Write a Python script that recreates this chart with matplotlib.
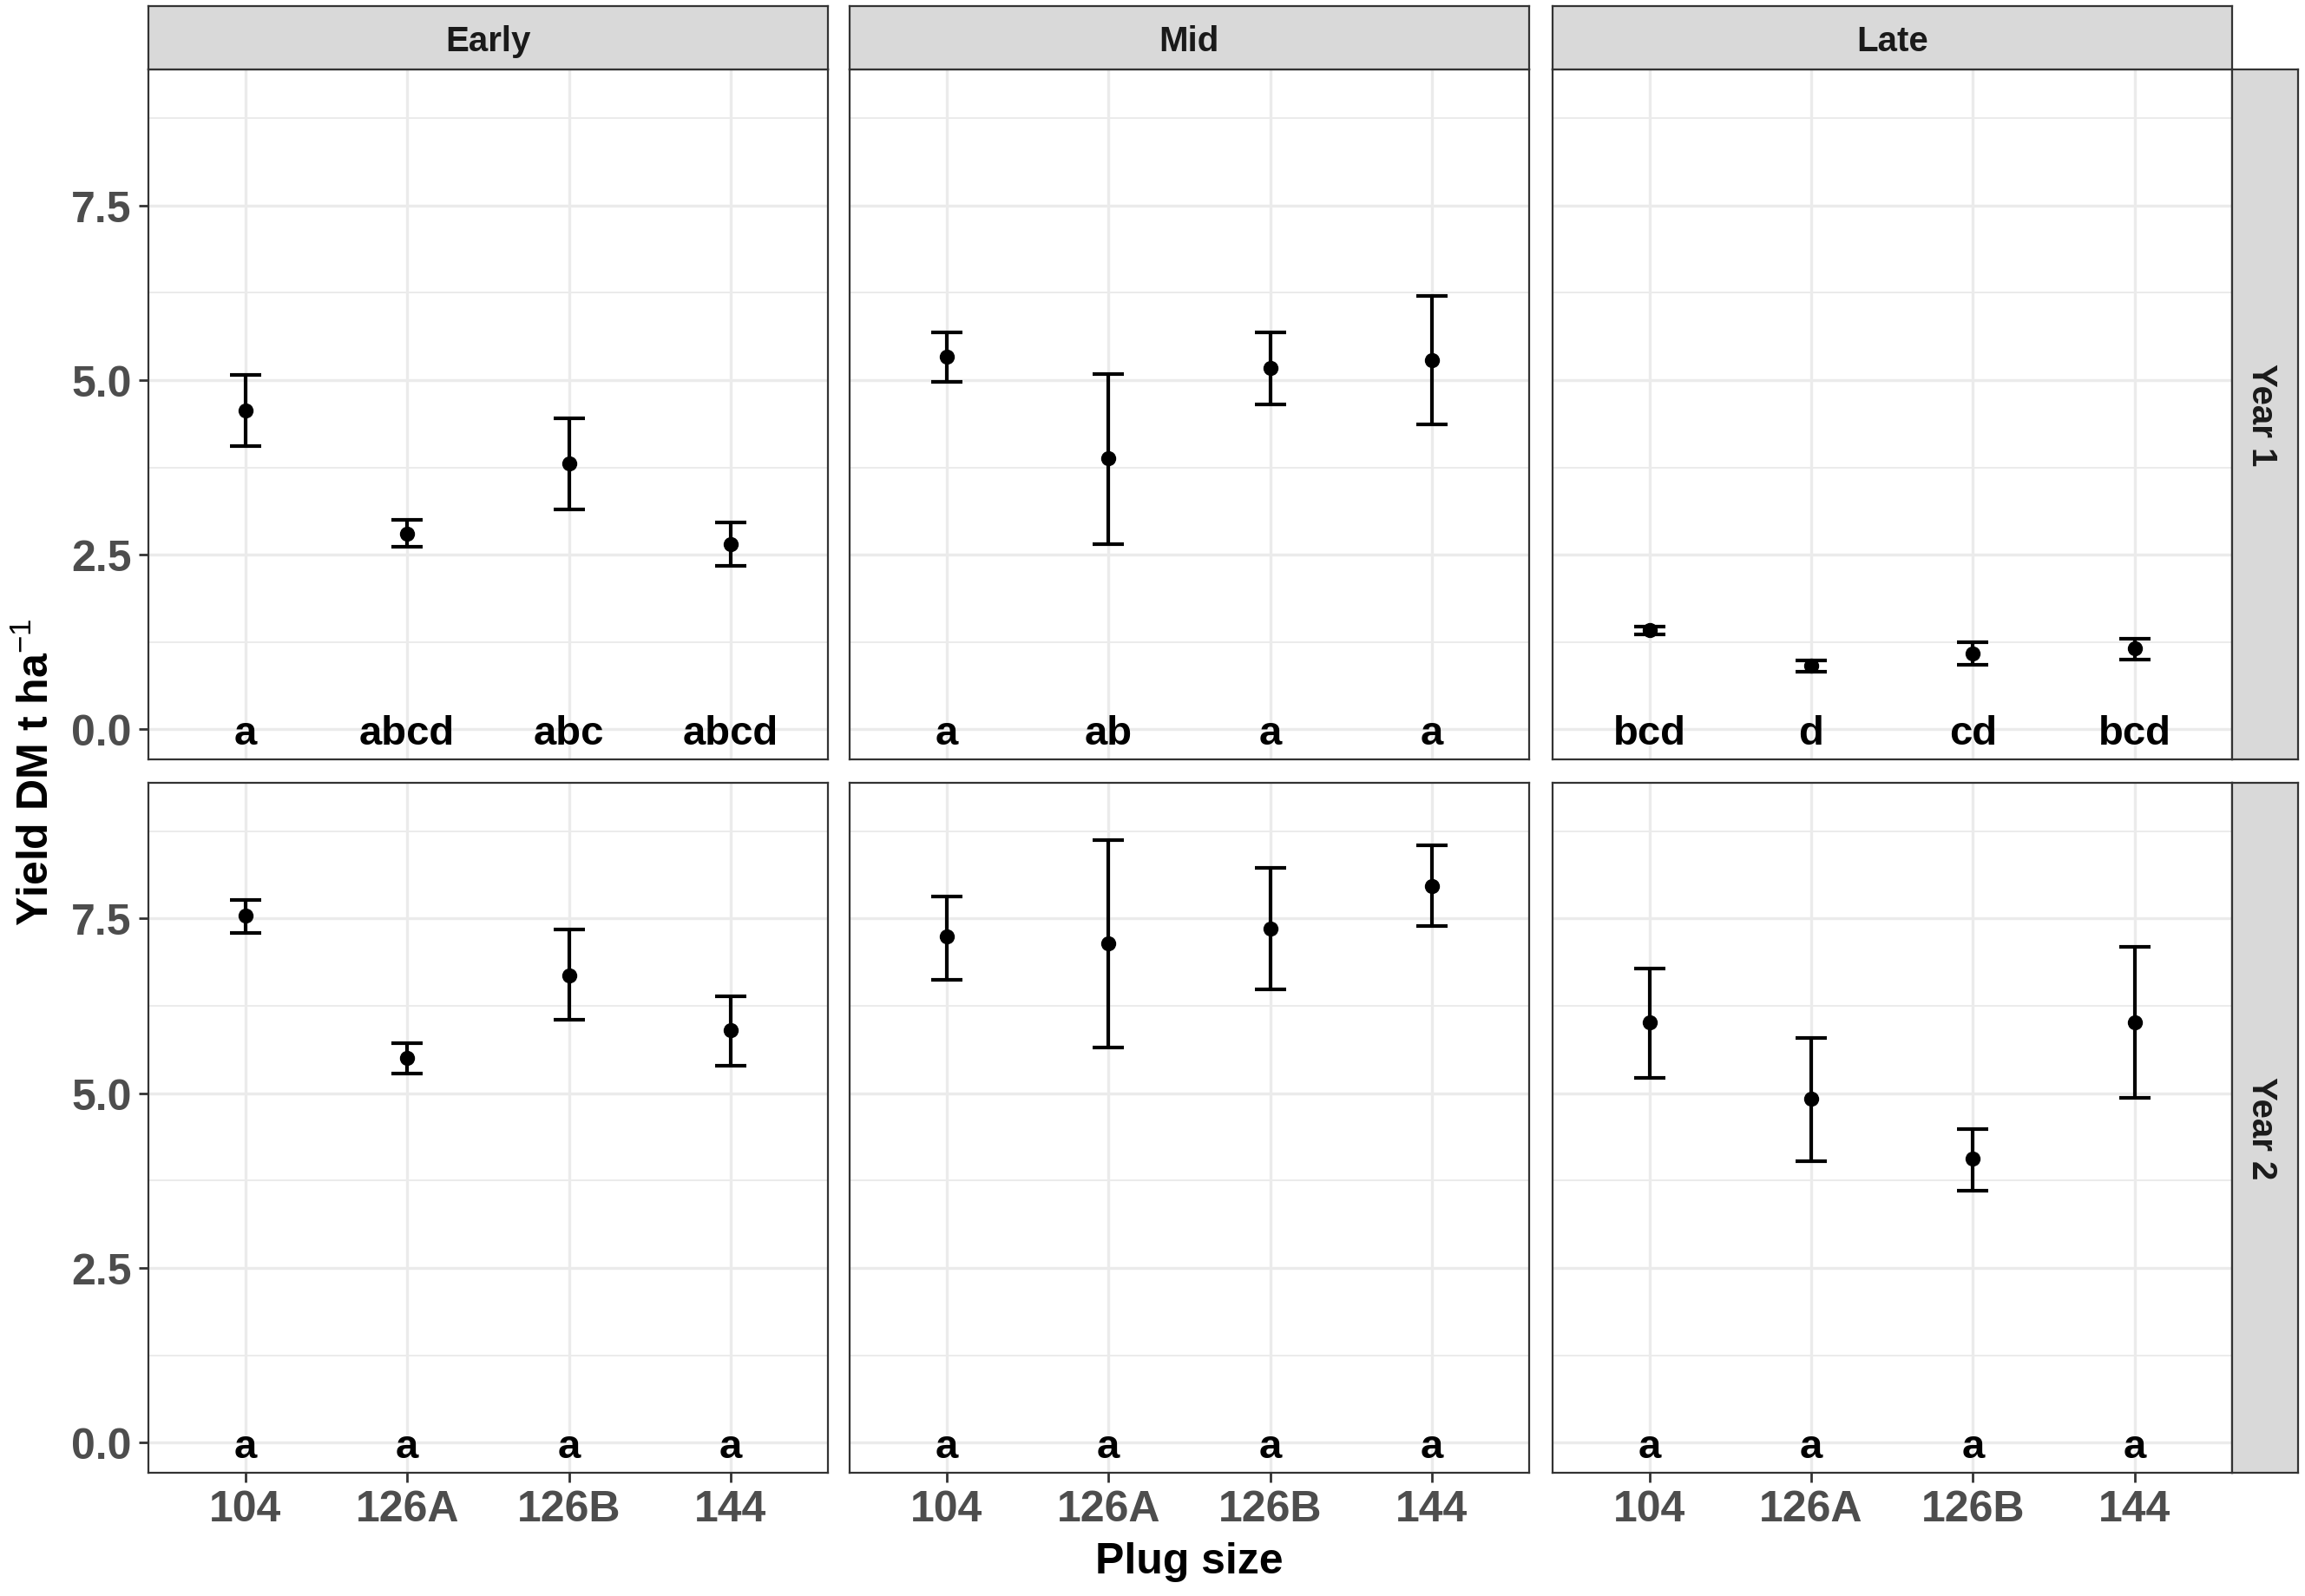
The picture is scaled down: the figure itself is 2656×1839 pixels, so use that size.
import numpy as np
import matplotlib
matplotlib.use('Agg')
import matplotlib.pyplot as plt

plt.rcParams['font.family'] = ['Liberation Sans', 'DejaVu Sans']
plt.rcParams['mathtext.fontset'] = 'custom'
plt.rcParams['mathtext.rm'] = 'Liberation Sans'
plt.rcParams['mathtext.bf'] = 'Liberation Sans:bold'

plugs = ['104', '126A', '126B', '144']
timings = ['Early', 'Mid', 'Late']
years = ['Year 1', 'Year 2']

# Year 1
y1_early_mean = [4.56, 2.80, 3.81, 2.65]
y1_early_lo = [4.06, 2.61, 3.15, 2.34]
y1_early_hi = [5.07, 3.00, 4.45, 2.96]
y1_mid_mean = [5.33, 3.88, 5.17, 5.29]
y1_mid_lo = [4.97, 2.65, 4.65, 4.37]
y1_mid_hi = [5.68, 5.09, 5.68, 6.20]
y1_late_mean = [1.42, 0.91, 1.09, 1.16]
y1_late_lo = [1.36, 0.82, 0.92, 1.00]
y1_late_hi = [1.47, 0.99, 1.25, 1.30]
# Year 2
y2_early_mean = [7.54, 5.51, 6.69, 5.90]
y2_early_lo = [7.30, 5.28, 6.05, 5.40]
y2_early_hi = [7.77, 5.72, 7.34, 6.39]
y2_mid_mean = [7.24, 7.15, 7.36, 7.97]
y2_mid_lo = [6.63, 5.65, 6.49, 7.40]
y2_mid_hi = [7.82, 8.63, 8.23, 8.55]
y2_late_mean = [6.01, 4.92, 4.06, 6.01]
y2_late_lo = [5.22, 4.03, 3.61, 4.93]
y2_late_hi = [6.78, 5.79, 4.49, 7.09]

# significance letters
y1_early_let = ['a', 'abcd', 'abc', 'abcd']
y1_mid_let = ['a', 'ab', 'a', 'a']
y1_late_let = ['bcd', 'd', 'cd', 'bcd']
y2_early_let = ['a', 'a', 'a', 'a']
y2_mid_let = ['a', 'a', 'a', 'a']
y2_late_let = ['a', 'a', 'a', 'a']

panels = [
    [(y1_early_mean, y1_early_lo, y1_early_hi, y1_early_let),
     (y1_mid_mean, y1_mid_lo, y1_mid_hi, y1_mid_let),
     (y1_late_mean, y1_late_lo, y1_late_hi, y1_late_let)],
    [(y2_early_mean, y2_early_lo, y2_early_hi, y2_early_let),
     (y2_mid_mean, y2_mid_lo, y2_mid_hi, y2_mid_let),
     (y2_late_mean, y2_late_lo, y2_late_hi, y2_late_let)],
]

fig = plt.figure(figsize=(26.56, 18.4), dpi=100)

lefts = [0.0644, 0.3686, 0.6735]
pw = 0.2947
bottoms = [0.5239, 0.0773]
ph = 0.4322
border = '#333333'
grid_c = '#EBEBEB'
strip_c = '#D9D9D9'

x = np.arange(len(plugs))
for r in range(2):
    for c in range(3):
        ax = fig.add_axes([lefts[c], bottoms[r], pw, ph])
        m, lo, hi, let = panels[r][c]
        m = np.array(m)
        err = [m - np.array(lo), np.array(hi) - m]
        ax.errorbar(x, m, yerr=err, fmt='o', color='black', ms=11.5,
                    elinewidth=3.0, capsize=13, capthick=3.0, zorder=3)
        for xi, t in zip(x, let):
            ax.text(xi, -0.06, t, ha='center', va='center', fontsize=34,
                    fontweight='bold', color='black', zorder=4)
        ax.set_xlim(-0.6, 3.6)
        ax.set_ylim(-0.43, 9.45)
        ax.set_xticks(x)
        ax.set_yticks([0, 2.5, 5.0, 7.5])
        ax.set_yticks([1.25, 3.75, 6.25, 8.75], minor=True)
        ax.grid(True, which='major', color=grid_c, lw=2.4, zorder=0)
        ax.grid(True, which='minor', axis='y', color=grid_c, lw=1.4, zorder=0)
        ax.set_axisbelow(True)
        for s in ax.spines.values():
            s.set_color(border)
            s.set_linewidth(1.6)
        ax.tick_params(which='minor', length=0)
        ax.tick_params(which='major', length=8, width=2, color=border,
                       labelsize=36, labelcolor='#4D4D4D', pad=6)
        if c == 0:
            ax.set_yticklabels(['0.0', '2.5', '5.0', '7.5'], fontweight='bold')
        else:
            ax.tick_params(axis='y', length=0, labelleft=False)
        if r == 1:
            ax.set_xticklabels(plugs, fontweight='bold')
        else:
            ax.tick_params(axis='x', length=0, labelbottom=False)

        # top strips
        if r == 0:
            sax = fig.add_axes([lefts[c], bottoms[0] + ph, pw, 0.0396])
            sax.set_facecolor(strip_c)
            sax.set_xticks([])
            sax.set_yticks([])
            for s in sax.spines.values():
                s.set_color(border)
                s.set_linewidth(1.6)
            sax.text(0.5, 0.45, timings[c], ha='center', va='center',
                     fontsize=29, fontweight='bold', color='#1A1A1A',
                     transform=sax.transAxes)
    # right strips
    rax = fig.add_axes([lefts[2] + pw, bottoms[r], 0.0287, ph])
    rax.set_facecolor(strip_c)
    rax.set_xticks([])
    rax.set_yticks([])
    for s in rax.spines.values():
        s.set_color(border)
        s.set_linewidth(1.6)
    rax.text(0.45, 0.5, years[r], ha='center', va='center', rotation=-90,
             fontsize=29, fontweight='bold', color='#1A1A1A',
             transform=rax.transAxes)

fig.text(0.016, 0.5166, r'Yield DM t ha$^{-1}$', rotation=90, ha='center',
         va='center', fontsize=36, fontweight='bold', color='black')
fig.text(0.516, 0.022, 'Plug size', ha='center', va='center', fontsize=36,
         fontweight='bold', color='black')

fig.savefig('out.png', dpi=100, facecolor='white')
